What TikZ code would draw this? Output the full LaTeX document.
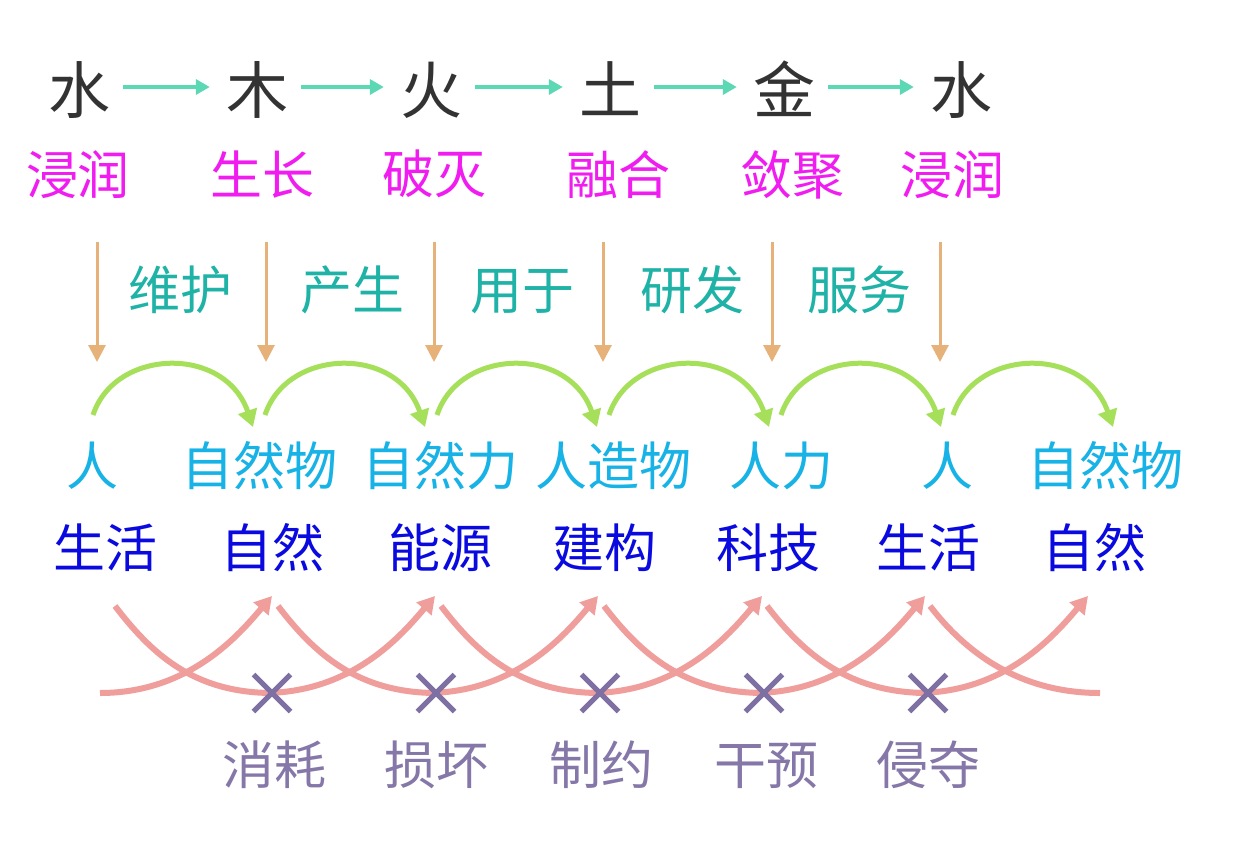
\documentclass[tikz,border=0pt]{standalone}
\usepackage{fontspec}
\newfontfamily\cjk{Noto Sans CJK SC}
\usetikzlibrary{arrows.meta,shapes.misc}
\definecolor{elem}{HTML}{333333}
\definecolor{mag}{HTML}{F01CF0}
\definecolor{tealtxt}{HTML}{1FB2A6}
\definecolor{cyantxt}{HTML}{17B2E6}
\definecolor{bluetxt}{HTML}{0A0AE0}
\definecolor{purptxt}{HTML}{8677A9}
\definecolor{arrteal}{HTML}{5DD8B5}
\definecolor{arrorange}{HTML}{E6B27A}
\definecolor{arrgreen}{HTML}{A6E05A}
\definecolor{arrpink}{HTML}{F09E9C}
\definecolor{crosscol}{HTML}{7F70A4}
\begin{document}
\begin{tikzpicture}[x=1pt,y=-1pt,
  big/.style={inner sep=0pt,font=\cjk\fontsize{62}{62}\selectfont,text height=54.6pt,text depth=7.4pt,text=elem},
  mid/.style={inner sep=0pt,font=\cjk\fontsize{52}{52}\selectfont,text height=45.8pt,text depth=6.2pt},
  phase/.style={mid,text=mag},
  verb/.style={mid,text=tealtxt},
  thing/.style={mid,text=cyantxt},
  realm/.style={mid,text=bluetxt},
  harm/.style={mid,text=purptxt},
  tealarr/.style={draw=arrteal,line width=4pt,-{Triangle[length=14pt,width=15pt]}},
  orangearr/.style={draw=arrorange,line width=3pt,-{Triangle[length=17pt,width=17pt]}},
  greenarr/.style={draw=arrgreen,line width=5pt,-{Triangle[length=17pt,width=19pt]}},
  pinkarr/.style={draw=arrpink,line width=6pt,-{Triangle[length=17pt,width=19pt]}},
  pinkline/.style={draw=arrpink,line width=6pt},
  crossmark/.style={draw=crosscol,cross out,line width=5pt,minimum size=32pt,inner sep=0pt}]
\useasboundingbox (0,0) rectangle (1240,860);
\fill[white] (0,0) rectangle (1240,860);

% row 1: elements
\node[big] (e1) at (79,90) {水};
\node[big] (e2) at (257,90) {木};
\node[big] (e3) at (431,90) {火};
\node[big] (e4) at (610,90) {土};
\node[big] (e5) at (784,90) {金};
\node[big] (e6) at (961,90) {水};
\foreach \a/\b in {e1/e2,e2/e3,e3/e4,e4/e5,e5/e6}
  \draw[tealarr,shorten <=13pt,shorten >=16pt] ([yshift=3pt]\a.east) -- ([yshift=3pt]\b.west);

% row 2: phases
\node[phase] (p1) at (78,175) {浸润};
\node[phase] (p2) at (262,175) {生长};
\node[phase] (p3) at (434,174) {破灭};
\node[phase] (p4) at (618,175) {融合};
\node[phase] (p5) at (792,175) {敛聚};
\node[phase] (p6) at (952,175) {浸润};

% orange down arrows
\foreach \i/\x in {1/97,2/266,3/434,4/603,5/772,6/940}{
  \coordinate (o\i t) at (\x,242);
  \coordinate (o\i b) at (\x,362);
  \draw[orangearr] (o\i t) -- (o\i b);
}

% verbs
\node[verb] (v1) at (180,290) {维护};
\node[verb] (v2) at (352,290) {产生};
\node[verb] (v3) at (522,290) {用于};
\node[verb] (v4) at (692,290) {研发};
\node[verb] (v5) at (859,290) {服务};

% green arcs
\foreach \k in {0,...,5}{
  \coordinate (gs\k) at ({93+172*\k},415);
  \coordinate (ge\k) at ({253+172*\k},427);
  \draw[greenarr] (gs\k) .. controls +(22,-67) and +(-28,-82) .. (ge\k);
}

% things
\node[thing] (c1) at (92.5,466) {人};
\node[thing] (c2) at (259.5,466) {自然物};
\node[thing] (c3) at (440,466) {自然力};
\node[thing] (c4) at (613,466) {人造物};
\node[thing] (c5) at (781,466) {人力};
\node[thing] (c6) at (947.5,466) {人};
\node[thing] (c7) at (1105,466) {自然物};

% realms
\node[realm] (b1) at (105,548) {生活};
\node[realm] (b2) at (272.5,548) {自然};
\node[realm] (b3) at (440,548) {能源};
\node[realm] (b4) at (604,548) {建构};
\node[realm] (b5) at (768,548) {科技};
\node[realm] (b6) at (928,548) {生活};
\node[realm] (b7) at (1094,548) {自然};

% pink curves
\foreach \k/\sx/\ex in {0/115/273,1/278/437,2/441/600,3/604/764,4/767/928,5/930/1100}{
  \coordinate (ds\k) at (\sx,606);
  \coordinate (de\k) at (\ex,693);
  \draw[pinkline] (ds\k) .. controls +(36,47) and +(-80,0) .. (de\k);
}
\foreach \k/\sx/\tx in {0/100/272,1/263/435,2/426/598,3/590/762,4/753/925,5/916/1088}{
  \coordinate (us\k) at (\sx,693);
  \coordinate (ut\k) at (\tx,596);
  \draw[pinkarr] (us\k) .. controls +(90,0) and +(-32.5,38) .. (ut\k);
}

% crosses
\foreach \i/\x in {1/272,2/436,3/600,4/764,5/928}
  \node[crossmark] (x\i) at (\x,693) {};

% harms
\node[harm] (d1) at (274,765) {消耗};
\node[harm] (d2) at (436,765) {损坏};
\node[harm] (d3) at (601,765) {制约};
\node[harm] (d4) at (766,765) {干预};
\node[harm] (d5) at (928,765) {侵夺};
\end{tikzpicture}
\end{document}
